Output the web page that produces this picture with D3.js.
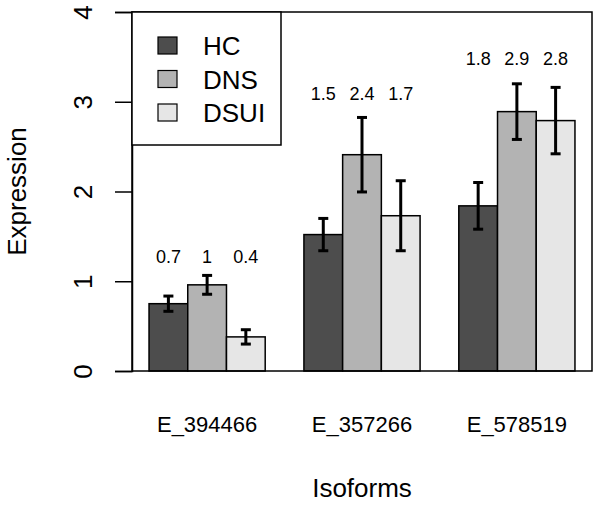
<!DOCTYPE html>
<html>
<head>
<meta charset="utf-8">
<script src="https://cdn.jsdelivr.net/npm/d3@7"></script>
<style>
  html, body { margin: 0; padding: 0; background: #fff; }
  svg text { font-family: "Liberation Sans", Arial, Helvetica, sans-serif; fill: #000; }
</style>
</head>
<body>
<svg id="chart" width="601" height="505"></svg>
<script>
// ---- data ----
const isoforms = ["E_394466", "E_357266", "E_578519"];
const groups = ["HC", "DNS", "DSUI"];
const hcValues = [0.75, 1.52, 1.84];
const dnsValues = [0.96, 2.41, 2.89];
const dsuiValues = [0.38, 1.73, 2.79];
const hcErrors = [0.085, 0.18, 0.26];
const dnsErrors = [0.105, 0.415, 0.31];
const dsuiErrors = [0.08, 0.39, 0.37];
const valueLabels = [["0.7", "1", "0.4"], ["1.5", "2.4", "1.7"], ["1.8", "2.9", "2.8"]];
const labelHeights = [1.2, 3.02, 3.41];
const yTicks = [0, 1, 2, 3, 4];
const colors = ["#4d4d4d", "#b3b3b3", "#e6e6e6"];

const seriesValues = [hcValues, dnsValues, dsuiValues];
const seriesErrors = [hcErrors, dnsErrors, dsuiErrors];

// ---- layout ----
const svg = d3.select("#chart");
const pLeft = 132, pRight = 592, pTop = 12, pBottom = 371;

const x = d3.scaleLinear().domain([0.56, 12.44]).range([pLeft, pRight]);
const y = d3.scaleLinear().domain([0, 4]).range([pBottom, pTop]);

const bars = [];
isoforms.forEach((iso, i) => {
  groups.forEach((g, j) => {
    const l = 1 + i * 4 + j;
    bars.push({ iso, g, i, j, l, v: seriesValues[j][i], e: seriesErrors[j][i] });
  });
});

// bars
svg.append("g").selectAll("rect").data(bars).join("rect")
  .attr("x", d => x(d.l))
  .attr("y", d => y(d.v))
  .attr("width", d => x(d.l + 1) - x(d.l))
  .attr("height", d => y(0) - y(d.v))
  .attr("fill", d => colors[d.j])
  .attr("stroke", "#000")
  .attr("stroke-width", 1.5);

// error bars
const eg = svg.append("g").attr("stroke", "#000").attr("stroke-width", 3);
bars.forEach(d => {
  const cx = x(d.l + 0.5);
  eg.append("line").attr("x1", cx).attr("x2", cx).attr("y1", y(d.v - d.e)).attr("y2", y(d.v + d.e));
  eg.append("line").attr("x1", cx - 5).attr("x2", cx + 5).attr("y1", y(d.v - d.e)).attr("y2", y(d.v - d.e));
  eg.append("line").attr("x1", cx - 5).attr("x2", cx + 5).attr("y1", y(d.v + d.e)).attr("y2", y(d.v + d.e));
});

// value labels
svg.append("g").selectAll("text").data(bars).join("text")
  .attr("x", d => x(d.l + 0.5))
  .attr("y", d => y(labelHeights[d.i]))
  .attr("text-anchor", "middle")
  .attr("font-size", 18)
  .text(d => valueLabels[d.i][d.j]);

// box
svg.append("rect")
  .attr("x", pLeft).attr("y", pTop)
  .attr("width", pRight - pLeft).attr("height", pBottom - pTop)
  .attr("fill", "none").attr("stroke", "#000").attr("stroke-width", 1.5);

// y axis
const yAxis = d3.axisLeft(y).tickValues(yTicks).tickSize(17).tickFormat(d3.format("d"));
const ya = svg.append("g").attr("transform", `translate(${pLeft},0)`).call(yAxis);
ya.select(".domain").attr("stroke-width", 1.5);
ya.selectAll(".tick line").attr("stroke-width", 1.5);
ya.selectAll(".tick text").remove();
ya.selectAll(".tick").append("text")
  .attr("transform", "translate(-40,0) rotate(-90)")
  .attr("text-anchor", "middle")
  .attr("font-size", 26)
  .attr("font-family", "Liberation Sans, Arial, sans-serif")
  .attr("fill", "#000")
  .text(d => d);

// x category labels
svg.append("g").selectAll("text").data(isoforms).join("text")
  .attr("x", (d, i) => x(1 + i * 4 + 1.5))
  .attr("y", 432)
  .attr("text-anchor", "middle")
  .attr("font-size", 22)
  .text(d => d);

// axis titles
svg.append("text")
  .attr("x", (pLeft + pRight) / 2).attr("y", 497)
  .attr("text-anchor", "middle").attr("font-size", 26)
  .text("Isoforms");
svg.append("text")
  .attr("transform", `translate(26,${(pTop + pBottom) / 2}) rotate(-90)`)
  .attr("text-anchor", "middle").attr("font-size", 26)
  .text("Expression");

// legend
const lg = svg.append("g");
lg.append("rect").attr("x", pLeft).attr("y", pTop).attr("width", 281 - pLeft).attr("height", 145 - pTop)
  .attr("fill", "#fff").attr("stroke", "#000").attr("stroke-width", 1.5);
const legendBase = [55, 88.5, 122];
groups.forEach((g, j) => {
  lg.append("rect").attr("x", 158).attr("y", legendBase[j] - 18).attr("width", 19).attr("height", 17)
    .attr("fill", colors[j]).attr("stroke", "#000").attr("stroke-width", 1.2);
  lg.append("text").attr("x", 203).attr("y", legendBase[j]).attr("font-size", 26).text(g);
});
</script>
</body>
</html>
